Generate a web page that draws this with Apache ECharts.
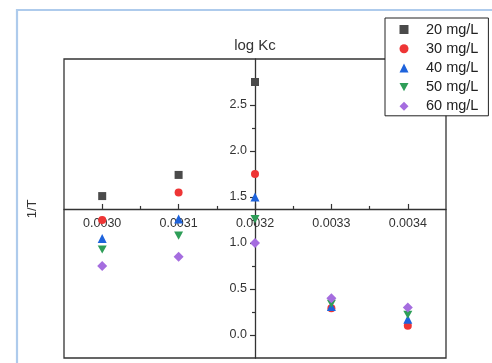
<!DOCTYPE html>
<html>
<head>
<meta charset="utf-8">
<script src="https://cdn.jsdelivr.net/npm/echarts@6/dist/echarts.min.js"></script>
<style>
  html, body { margin: 0; padding: 0; background: #ffffff; }
  #chart { width: 492px; height: 363px; }
</style>
</head>
<body>
<div id="chart"></div>
<script>
// Reciprocal temperature (1/T) values
const invT = [0.0030, 0.0031, 0.0032, 0.0033, 0.0034];

// log Kc for each initial concentration (null = no measurement)
const logKc20 = [1.51, 1.74, 2.75, null, null];
const logKc30 = [1.25, 1.55, 1.75, 0.29, 0.10];
const logKc40 = [1.05, 1.26, 1.50, 0.31, 0.17];
const logKc50 = [0.93, 1.08, 1.26, 0.34, 0.22];
const logKc60 = [0.75, 0.85, 1.00, 0.40, 0.30];

const seriesNames = ['20 mg/L', '30 mg/L', '40 mg/L', '50 mg/L', '60 mg/L'];

// Tick positions
const xTicks = [0.0030, 0.0031, 0.0032, 0.0033, 0.0034];
const xMinorTicks = [0.00305, 0.00315, 0.00325, 0.00335];
const yTicks = [0, 0.5, 1.0, 1.5, 2.0, 2.5];
const yMinorTicks = [0.25, 0.75, 1.25, 1.75, 2.25, 2.75];

// Axis ranges and where the axes cross each other
const xMin = 0.00295, xMax = 0.00345;
const yMin = -0.25, yMax = 3.0;
const xAxisAtY = 1.37;     // horizontal axis drawn at this log Kc
const yAxisAtX = 0.0032;   // vertical axis drawn at this 1/T

const FONT = 'Liberation Sans, Arial, sans-serif';
const INK = '#333333';
const GRID = { left: 64, top: 59, width: 382, height: 299 };

function pairs(ys) {
  const out = [];
  ys.forEach((y, i) => { if (y !== null) out.push([invT[i], y]); });
  return out;
}

const styles = [
  { symbol: 'rect', size: 8, color: '#4a4a4a' },
  { symbol: 'circle', size: 8, color: '#ee3535' },
  { symbol: 'triangle', size: 9, color: '#1e63dc' },
  { symbol: 'path://M0,0 L10,0 L5,9 Z', size: 9, color: '#2e9e58' },
  { symbol: 'diamond', size: 10, color: '#a56ddf' }
];
const allData = [logKc20, logKc30, logKc40, logKc50, logKc60];

const series = seriesNames.map((name, i) => ({
  name: name,
  type: 'scatter',
  xAxisIndex: 0,
  yAxisIndex: 0,
  symbol: styles[i].symbol,
  symbolSize: styles[i].size,
  symbolKeepAspect: true,
  itemStyle: { color: styles[i].color, opacity: 1 },
  emphasis: { disabled: true },
  data: pairs(allData[i]),
  z: 3 + i
}));

function xAxes(offset) {
  return [
    {
      type: 'value', min: xMin, max: xMax, position: 'bottom', offset: offset,
      name: '1/T', nameLocation: 'start', nameRotate: 90, nameGap: 32,
      nameTextStyle: { fontFamily: FONT, fontSize: 13, color: INK, verticalAlign: 'middle' },
      axisLine: { show: true, onZero: false, lineStyle: { color: INK, width: 1.3 } },
      axisTick: { show: true, inside: true, length: 5, customValues: xTicks, lineStyle: { color: INK, width: 1.2 } },
      axisLabel: { show: true, customValues: xTicks, margin: 8, fontFamily: FONT, fontSize: 12.5, color: INK,
                   formatter: v => v.toFixed(4) },
      splitLine: { show: false }
    },
    {
      type: 'value', min: xMin, max: xMax, position: 'bottom', offset: offset,
      axisLine: { show: false, onZero: false },
      axisTick: { show: true, inside: true, length: 3, customValues: xMinorTicks, lineStyle: { color: INK, width: 1.2 } },
      axisLabel: { show: false },
      splitLine: { show: false }
    }
  ];
}

function yAxes(offset) {
  return [
    {
      type: 'value', min: yMin, max: yMax, position: 'left', offset: offset,
      name: 'log Kc', nameLocation: 'end', nameGap: 6,
      nameTextStyle: { fontFamily: FONT, fontSize: 15, color: INK },
      axisLine: { show: true, onZero: false, lineStyle: { color: INK, width: 1.3 } },
      axisTick: { show: true, length: 5, customValues: yTicks, lineStyle: { color: INK, width: 1.2 } },
      axisLabel: { show: true, customValues: yTicks, margin: 8, fontFamily: FONT, fontSize: 12.5, color: INK,
                   formatter: v => v.toFixed(1) },
      splitLine: { show: false }
    },
    {
      type: 'value', min: yMin, max: yMax, position: 'left', offset: offset,
      axisLine: { show: false, onZero: false },
      axisTick: { show: true, length: 3, customValues: yMinorTicks, lineStyle: { color: INK, width: 1.2 } },
      axisLabel: { show: false },
      splitLine: { show: false }
    }
  ];
}

const chart = echarts.init(document.getElementById('chart'), null, { renderer: 'canvas' });

chart.setOption({
  animation: false,
  backgroundColor: '#ffffff',
  graphic: [{
    type: 'rect',
    silent: true,
    z: -10,
    shape: { x: 17, y: 10, width: 520, height: 420 },
    style: { fill: 'none', stroke: '#aecbec', lineWidth: 2.2 }
  }],
  grid: {
    left: GRID.left, top: GRID.top, width: GRID.width, height: GRID.height,
    outerBoundsMode: 'none',
    show: true, borderColor: INK, borderWidth: 1.3,
    backgroundColor: 'transparent', containLabel: false
  },
  legend: {
    orient: 'vertical',
    left: 385, top: 18,
    padding: [4, 10, 2, 14.5],
    itemWidth: 9, itemHeight: 9, itemGap: 4.2,
    symbolKeepAspect: true,
    borderColor: '#222', borderWidth: 1,
    backgroundColor: '#ffffff',
    textStyle: { fontFamily: FONT, fontSize: 14.5, color: '#222', lineHeight: 14, padding: [0, 0, 0, 12.5] },
    data: seriesNames
  },
  xAxis: xAxes(0),
  yAxis: yAxes(0),
  series: series
});

// Move the axes so they cross inside the plot: the x axis at log Kc = xAxisAtY,
// the y axis at 1/T = yAxisAtX, using the chart's own coordinate conversion.
const crossY = chart.convertToPixel({ yAxisIndex: 0 }, xAxisAtY);
const crossX = chart.convertToPixel({ xAxisIndex: 0 }, yAxisAtX);
const xOffset = crossY - (GRID.top + GRID.height);   // negative: moves up from the bottom edge
const yOffset = GRID.left - crossX;                   // negative: moves right from the left edge
chart.setOption({ xAxis: xAxes(xOffset), yAxis: yAxes(yOffset) });
</script>
</body>
</html>
